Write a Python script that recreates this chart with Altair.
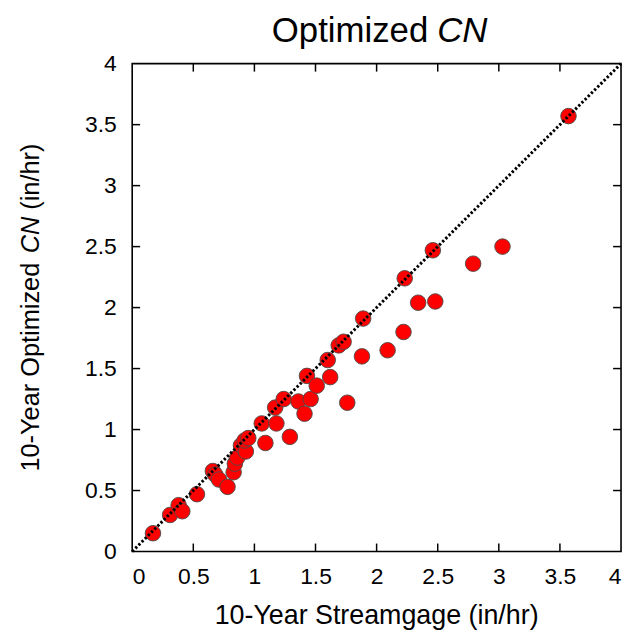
import altair as alt
import pandas as pd

# Data
streamgage = [0.17, 0.31, 0.38, 0.41, 0.53, 0.66, 0.68, 0.71, 0.78, 0.83,
              0.84, 0.86, 0.89, 0.93, 0.92, 0.95, 1.06, 1.09, 1.17, 1.18,
              1.24, 1.29, 1.36, 1.41, 1.43, 1.46, 1.51, 1.60, 1.62, 1.69,
              1.73, 1.76, 1.89, 1.88, 2.09, 2.22, 2.23, 2.34, 2.48, 2.46,
              2.79, 3.03, 3.57]
optimized = [0.15, 0.30, 0.38, 0.33, 0.47, 0.66, 0.63, 0.59, 0.53, 0.65,
             0.72, 0.77, 0.87, 0.82, 0.91, 0.93, 1.05, 0.89, 1.18, 1.05,
             1.25, 0.94, 1.23, 1.13, 1.44, 1.25, 1.36, 1.57, 1.43, 1.69,
             1.72, 1.22, 1.91, 1.60, 1.65, 1.80, 2.24, 2.04, 2.05, 2.47,
             2.36, 2.50, 3.57]
axis_ticks = [0, 0.5, 1, 1.5, 2, 2.5, 3, 3.5, 4]
inner_ticks = [0.5, 1, 1.5, 2, 2.5, 3, 3.5]
line_ends = [0, 4]

W, H = 492, 491
TICK = 8
FONT = "Liberation Sans"

pts = pd.DataFrame({"x": streamgage, "y": optimized})
diag = pd.DataFrame({"x": line_ends, "y": line_ends})
tk = pd.DataFrame({"v": inner_ticks})

xs = alt.Scale(domain=[0, 4], nice=False, zero=True)
ys = alt.Scale(domain=[0, 4], nice=False, zero=True)

x_axis = alt.Axis(values=axis_ticks, format="~g", title=None, grid=False,
                  ticks=False, tickSize=0, domain=False, labelPadding=14,
                  labelFontSize=23, labelFont=FONT, labelColor="black")
y_axis = alt.Axis(values=axis_ticks, format="~g", title=None, grid=False,
                  ticks=False, tickSize=0, domain=False, labelPadding=16,
                  labelFontSize=23, labelFont=FONT, labelColor="black")

points = alt.Chart(pts).mark_circle(
    size=245, color="#ff0000", opacity=1, stroke="#4a4a4a", strokeWidth=0.9
).encode(
    x=alt.X("x:Q", scale=xs, axis=x_axis),
    y=alt.Y("y:Q", scale=ys, axis=y_axis),
)

line = alt.Chart(diag).mark_line(
    color="black", strokeWidth=3, strokeDash=[2.4, 2.1], strokeCap="butt"
).encode(x=alt.X("x:Q", scale=xs), y=alt.Y("y:Q", scale=ys))

tick_bottom = alt.Chart(tk).mark_rule(color="black", strokeWidth=1.5).encode(
    x=alt.X("v:Q", scale=xs), y=alt.value(H), y2=alt.value(H - TICK))
tick_top = alt.Chart(tk).mark_rule(color="black", strokeWidth=1.5).encode(
    x=alt.X("v:Q", scale=xs), y=alt.value(0), y2=alt.value(TICK))
tick_left = alt.Chart(tk).mark_rule(color="black", strokeWidth=1.5).encode(
    y=alt.Y("v:Q", scale=ys), x=alt.value(0), x2=alt.value(TICK))
tick_right = alt.Chart(tk).mark_rule(color="black", strokeWidth=1.5).encode(
    y=alt.Y("v:Q", scale=ys), x=alt.value(W), x2=alt.value(W - TICK))

one = pd.DataFrame({"a": [0]})


def txt(s, x, y, size, align, angle=0, italic=False):
    kw = dict(text=s, fontSize=size, font=FONT, align=align,
              baseline="alphabetic", color="black")
    if angle:
        kw["angle"] = angle
    if italic:
        kw["fontStyle"] = "italic"
    return alt.Chart(one).mark_text(**kw).encode(x=alt.value(x), y=alt.value(y))


# Title "Optimized CN" (CN italic)
TS = 35
t1 = txt("Optimized", 298, -22, TS, "right")
t2 = txt("CN", 307, -22, TS, "left", italic=True)

# x-axis title
xt = txt("10-Year Streamgage (in/hr)", W / 2, 564, 27, "center")

# y-axis title (rotated), pieces running upward, CN italic
YS = 25.5
YB = -94
w_lo = YS * (3.557 + 0.278 + 4.501 + 0.278)
w_cn = YS * (1.444 + 0.278)
y_start = H / 2 + YS * 12.947 / 2
ya = txt("10-Year Optimized", YB, y_start, YS, "left", angle=270)
yb = txt("CN", YB, y_start - w_lo, YS, "left", angle=270, italic=True)
yc = txt("(in/hr)", YB, y_start - w_lo - w_cn, YS, "left", angle=270)

chart = alt.layer(
    points, line, tick_bottom, tick_top, tick_left, tick_right,
    t1, t2, xt, ya, yb, yc
).properties(
    width=W, height=H,
    autosize=alt.AutoSizeParams(type="none"),
    padding={"left": 125, "top": 54, "right": 5, "bottom": 80},
).configure_view(stroke="black", strokeWidth=1.6)

chart.save("out.html", embed_options={"renderer": "svg", "actions": False})
